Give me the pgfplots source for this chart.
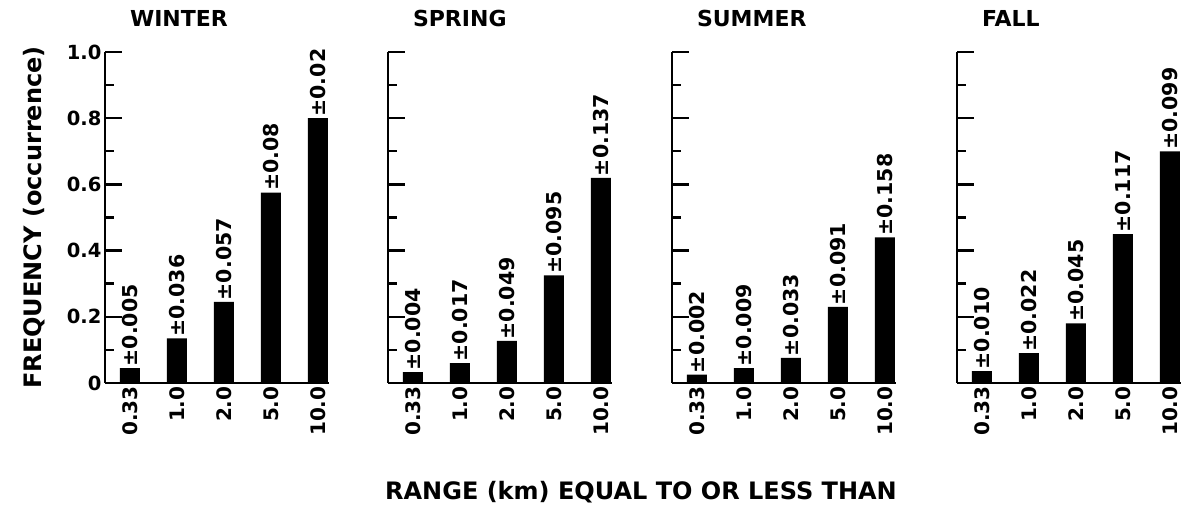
\documentclass[border=0pt]{standalone}
\usepackage{fontspec}
\setmainfont{DejaVu Sans}
\usepackage{pgfplots}
\pgfplotsset{compat=1.18}
\usepackage{pgfplotstable}

% frequency of occurrence for each range class, with its uncertainty
\pgfplotstableread{
x y err
0 0.045 ±0.005
1 0.135 ±0.036
2 0.245 ±0.057
3 0.575 ±0.08
4 0.800 ±0.02
}\winter
\pgfplotstableread{
x y err
0 0.033 ±0.004
1 0.060 ±0.017
2 0.127 ±0.049
3 0.325 ±0.095
4 0.620 ±0.137
}\spring
\pgfplotstableread{
x y err
0 0.025 ±0.002
1 0.045 ±0.009
2 0.076 ±0.033
3 0.230 ±0.091
4 0.440 ±0.158
}\summer
\pgfplotstableread{
x y err
0 0.036 ±0.010
1 0.090 ±0.022
2 0.180 ±0.045
3 0.450 ±0.117
4 0.700 ±0.099
}\fall

\newcommand{\lblfont}{\fontsize{19.5}{19.5}\selectfont\bfseries}
\newcommand{\xlblfont}{\fontsize{20}{20}\selectfont\bfseries}
\newcommand{\barfont}{\fontsize{20.5}{20.5}\selectfont\bfseries}
\newcommand{\bigfont}{\fontsize{24}{24}\selectfont\bfseries}
\pgfplotsset{
  panel/.style={
    scale only axis, width=223.7pt, height=331pt, anchor=south west,
    xmin=-0.53, xmax=4.23, ymin=0, ymax=1,
    axis x line=bottom, axis y line=left,
    axis line style={-, line width=2.8pt},
    ybar, bar width=20pt,
    xtick={0,...,4}, xticklabels={0.33,1.0,2.0,5.0,10.0},
    x tick label style={rotate=90, anchor=east, font=\xlblfont},
    x tick style={draw=none},
    ytick={0,0.2,0.4,0.6,0.8,1.0}, minor ytick={0.1,0.3,0.5,0.7,0.9},
    y tick style={line width=2.4pt, black},
    major tick length=17pt, minor tick length=9pt, tick align=inside,
    yticklabels={},
    y tick label style={font=\lblfont},
    nodes near coords, point meta=explicit symbolic,
    nodes near coords style={rotate=90, anchor=west, inner sep=1.5pt, font=\barfont},
    title style={at={(axis description cs:0.111,1.0574)}, anchor=base west,
      inner sep=0pt, font=\fontsize{22}{22}\selectfont\bfseries},
    clip=false,
  },
  bars/.style={fill=black, draw=none},
}

\begin{document}
\begin{tikzpicture}
\useasboundingbox (0,0) rectangle (1184pt,508pt);

\begin{axis}[panel, at={(105pt,125pt)}, title={WINTER},
  yticklabels={0,0.2,0.4,0.6,0.8,1.0},
  ylabel={FREQUENCY (occurrence)},
  ylabel style={at={(axis description cs:-0.2817,0.5)}, anchor=base,
    inner sep=0pt, font=\bigfont}]
\addplot[bars] table[x=x, y=y, meta=err] {\winter};
\end{axis}

\begin{axis}[panel, at={(388pt,125pt)}, title={SPRING}]
\addplot[bars] table[x=x, y=y, meta=err] {\spring};
\end{axis}

\begin{axis}[panel, at={(672pt,125pt)}, title={SUMMER}]
\addplot[bars] table[x=x, y=y, meta=err] {\summer};
\end{axis}

\begin{axis}[panel, at={(957pt,125pt)}, title={FALL}]
\addplot[bars] table[x=x, y=y, meta=err] {\fall};
\end{axis}

\node[anchor=base, inner sep=0pt, font=\bigfont]
  at (641pt,8pt) {RANGE (km) EQUAL TO OR LESS THAN};
\end{tikzpicture}
\end{document}
